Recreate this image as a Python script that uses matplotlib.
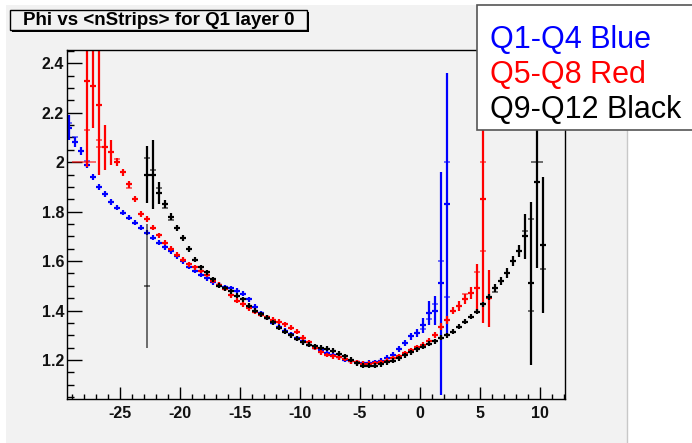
import numpy as np
import matplotlib
matplotlib.use("Agg")
import matplotlib.pyplot as plt
from matplotlib.patches import Rectangle
from matplotlib.lines import Line2D
from matplotlib.ticker import MultipleLocator, FuncFormatter

plt.rcParams["font.family"] = ["Liberation Sans", "DejaVu Sans"]
plt.rcParams["font.weight"] = "bold"
plt.rcParams["axes.unicode_minus"] = False

# profile bins are 0.5 wide; first bin centre and values per colour group
blue_start = -29.25
blue_vals = [2.14, 2.08, 2.045, 1.99, 1.94, 1.90, 1.87, 1.84, 1.815, 1.795,
             1.775, 1.755, 1.735, 1.715, 1.695, 1.675, 1.655, 1.64, 1.62, 1.60,
             1.578, 1.56, 1.545, 1.53, 1.515, 1.505, 1.495, 1.49, 1.48, 1.468,
             1.445, 1.415, 1.39, 1.37, 1.35, 1.335, 1.318, 1.303, 1.288, 1.275,
             1.262, 1.25, 1.24, 1.23, 1.22, 1.21, 1.20, 1.195, 1.19, 1.186,
             1.188, 1.19, 1.197, 1.208, 1.222, 1.245, 1.27, 1.295, 1.31, 1.34,
             1.39, 1.40, 1.51, 1.83]
blue_errs = [0.05, 0.02, 0.015, 0.012, 0.012, 0.012, 0.012, 0.012, 0.01, 0.01,
             0.01, 0.01, 0.01, 0.01, 0.01, 0.01, 0.01, 0.01, 0.01, 0.01,
             0.01, 0.01, 0.01, 0.01, 0.01, 0.01, 0.01, 0.01, 0.01, 0.01,
             0.01, 0.01, 0.01, 0.01, 0.01, 0.01, 0.01, 0.01, 0.01, 0.01,
             0.01, 0.01, 0.01, 0.01, 0.01, 0.01, 0.01, 0.01, 0.01, 0.01,
             0.01, 0.01, 0.01, 0.01, 0.01, 0.012, 0.012, 0.014, 0.016, 0.03,
             0.05, 0.06, 0.45, 0.53]

red_start = -27.75
red_vals = [2.33, 2.31, 2.23, 2.06, 2.04, 2.0, 1.96, 1.91, 1.85, 1.79,
            1.77, 1.735, 1.705, 1.675, 1.65, 1.625, 1.606, 1.588, 1.575, 1.56,
            1.545, 1.52, 1.505, 1.487, 1.462, 1.44, 1.425, 1.41, 1.395, 1.382,
            1.372, 1.362, 1.355, 1.345, 1.33, 1.315, 1.29, 1.272, 1.25, 1.232,
            1.22, 1.215, 1.21, 1.205, 1.195, 1.19, 1.185, 1.184, 1.186, 1.19,
            1.197, 1.207, 1.216, 1.228, 1.24, 1.252, 1.262, 1.278, 1.30, 1.335,
            1.36, 1.40, 1.42, 1.445, 1.47, 1.49, 1.85, 1.45]
red_errs = [0.35, 0.17, 0.28, 0.09, 0.05, 0.016, 0.014, 0.014, 0.012, 0.012,
            0.012, 0.01, 0.01, 0.01, 0.01, 0.01, 0.01, 0.01, 0.01, 0.01,
            0.01, 0.01, 0.01, 0.01, 0.01, 0.01, 0.01, 0.01, 0.01, 0.01,
            0.01, 0.01, 0.01, 0.01, 0.01, 0.01, 0.01, 0.01, 0.01, 0.01,
            0.01, 0.01, 0.01, 0.01, 0.01, 0.01, 0.01, 0.01, 0.01, 0.01,
            0.01, 0.01, 0.01, 0.01, 0.01, 0.01, 0.01, 0.012, 0.012, 0.014,
            0.016, 0.016, 0.02, 0.02, 0.025, 0.1, 0.5, 0.115]

black_start = -22.75
black_vals = [1.95, 1.95, 1.875, 1.83, 1.78, 1.735, 1.695, 1.65, 1.605, 1.575,
              1.555, 1.527, 1.50, 1.49, 1.478, 1.46, 1.445, 1.42, 1.40, 1.385,
              1.37, 1.353, 1.33, 1.315, 1.30, 1.285, 1.272, 1.262, 1.255, 1.25,
              1.245, 1.238, 1.226, 1.215, 1.20, 1.186, 1.177, 1.176, 1.177, 1.182,
              1.19, 1.197, 1.207, 1.218, 1.232, 1.244, 1.254, 1.266, 1.275, 1.29,
              1.30, 1.315, 1.335, 1.355, 1.375, 1.395, 1.425, 1.455, 1.49, 1.52,
              1.55, 1.60, 1.64, 1.70, 1.51, 1.92, 1.665]
black_errs = [0.115, 0.14, 0.045, 0.016, 0.014, 0.012, 0.012, 0.012, 0.01, 0.01,
              0.01, 0.01, 0.01, 0.01, 0.01, 0.01, 0.01, 0.01, 0.01, 0.01,
              0.01, 0.01, 0.01, 0.01, 0.01, 0.01, 0.01, 0.01, 0.01, 0.01,
              0.01, 0.01, 0.01, 0.01, 0.01, 0.01, 0.01, 0.01, 0.01, 0.01,
              0.01, 0.01, 0.01, 0.01, 0.01, 0.01, 0.01, 0.01, 0.01, 0.01,
              0.01, 0.01, 0.01, 0.01, 0.01, 0.01, 0.01, 0.012, 0.016, 0.016,
              0.02, 0.02, 0.025, 0.09, 0.33, 0.35, 0.275]

# extra entries from the other quadrants: x, y, yerr, xerr
blue_extra = [(-29.25, 2.158, 0.0, 0.25), (-28.75, 2.10, 0.0, 0.25),
              (-27.75, 2.005, 0.0, 0.25), (1.75, 1.60, 0.0, 0.25),
              (2.25, 2.0, 0.0, 0.25), (2.25, 1.454, 0.0, 0.25),
              (0.75, 1.365, 0.0, 0.25), (1.25, 1.425, 0.0, 0.25),
              (0.25, 1.325, 0.0, 0.25)]
red_extra = [(-28.0, 2.0, 0.0, 1.0), (-27.75, 2.13, 0.0, 0.25),
             (-26.75, 2.09, 0.0, 0.25), (-26.75, 2.06, 0.0, 0.25),
             (-25.25, 2.015, 0.0, 0.25), (-24.25, 1.895, 0.0, 0.25),
             (5.25, 2.0, 0.0, 0.25), (5.25, 1.64, 0.0, 0.25),
             (4.75, 1.555, 0.0, 0.25), (3.75, 1.465, 0.0, 0.25)]
black_extra = [(-22.75, 1.5, 0.25, 0.25), (-22.75, 2.017, 0.0, 0.25),
               (-22.25, 1.97, 0.0, 0.25), (-21.75, 1.896, 0.0, 0.25),
               (-21.25, 1.815, 0.0, 0.25), (-20.75, 1.765, 0.0, 0.25),
               (9.75, 2.0, 0.0, 0.5), (9.25, 1.77, 0.0, 0.25),
               (9.25, 1.40, 0.0, 0.25), (10.25, 1.566, 0.0, 0.25),
               (6.25, 1.474, 0.0, 0.25), (8.75, 1.72, 0.0, 0.25)]

legend_lines = ["Q1-Q4 Blue", "Q5-Q8 Red", "Q9-Q12 Black"]
colors = ["#0000ff", "#ff0000", "#000000"]
title = "Phi vs <nStrips> for Q1 layer 0"

W, H = 692, 443
fig = plt.figure(figsize=(W / 100, H / 100), dpi=100)
fig.patch.set_facecolor("white")


def fx(px):
    return px / W


def fy(py):
    return 1 - py / H


# grey canvas
fig.patches.append(Rectangle((fx(6), fy(443)), fx(627) - fx(6), fy(5) - fy(443),
                             transform=fig.transFigure, facecolor="#f2f2f2",
                             edgecolor="none", zorder=-10))
fig.lines.append(Line2D([fx(627), fx(627)], [fy(5), fy(443)], transform=fig.transFigure,
                        color="#c8c8c8", lw=1, zorder=-9))

ax = fig.add_axes([fx(67), fy(399), fx(565) - fx(67), fy(50) - fy(399)])
ax.set_facecolor("#f2f2f2")

groups = [(blue_start, blue_vals, blue_errs, blue_extra),
          (red_start, red_vals, red_errs, red_extra),
          (black_start, black_vals, black_errs, black_extra)]
for (start, vals, errs, extra), c in zip(groups, colors):
    xs = start + 0.5 * np.arange(len(vals))
    ax.errorbar(xs, vals, yerr=errs, xerr=0.25, fmt="none", ecolor=c,
                elinewidth=1.6, capsize=0)
    ex = np.array(extra)
    ax.errorbar(ex[:, 0], ex[:, 1], yerr=ex[:, 2], xerr=ex[:, 3], fmt="none",
                ecolor=c, elinewidth=1.1, capsize=0, alpha=0.7)

ax.set_xlim(-29.45, 12.1)
ax.set_ylim(1.042, 2.454)
ax.xaxis.set_major_locator(MultipleLocator(5))
ax.xaxis.set_minor_locator(MultipleLocator(1))
ax.yaxis.set_major_locator(MultipleLocator(0.2))
ax.yaxis.set_minor_locator(MultipleLocator(0.05))
ax.yaxis.set_major_formatter(FuncFormatter(lambda v, p: "%g" % round(v, 2)))
ax.tick_params(which="both", direction="in", top=False, right=False,
               color="black", labelsize=11.5, labelcolor="#111111")
ax.tick_params(axis="x", which="major", length=8.6, width=1, pad=5)
ax.tick_params(axis="x", which="minor", length=3.8, width=1)
ax.tick_params(axis="y", which="major", length=10.8, width=1, pad=2)
ax.tick_params(axis="y", which="minor", length=5.2, width=1)
for s in ax.spines.values():
    s.set_color("black")
    s.set_linewidth(1)

# title box with shadow
fig.patches.append(Rectangle((fx(12), fy(32)), fx(309) - fx(12), fy(12) - fy(32),
                             transform=fig.transFigure, facecolor="black",
                             edgecolor="none", zorder=3))
fig.patches.append(Rectangle((fx(10), fy(30)), fx(307) - fx(10), fy(10) - fy(30),
                             transform=fig.transFigure, facecolor="#f2f2f2",
                             edgecolor="black", lw=1, zorder=4))
fig.text(fx(158.5), fy(20.5), title, ha="center", va="center", fontsize=13.5,
         fontweight="bold", zorder=5)

# legend box
fig.patches.append(Rectangle((fx(477), fy(130)), fx(700) - fx(477), fy(5) - fy(130),
                             transform=fig.transFigure, facecolor="white",
                             edgecolor="#555555", lw=1.2, zorder=6))
for i, (txt, c) in enumerate(zip(legend_lines, colors)):
    fig.text(fx(490), fy(48 + 35 * i), txt, color=c, fontsize=22,
             fontweight="normal", va="baseline", ha="left", zorder=7)

fig.savefig("out.png", dpi=100)
